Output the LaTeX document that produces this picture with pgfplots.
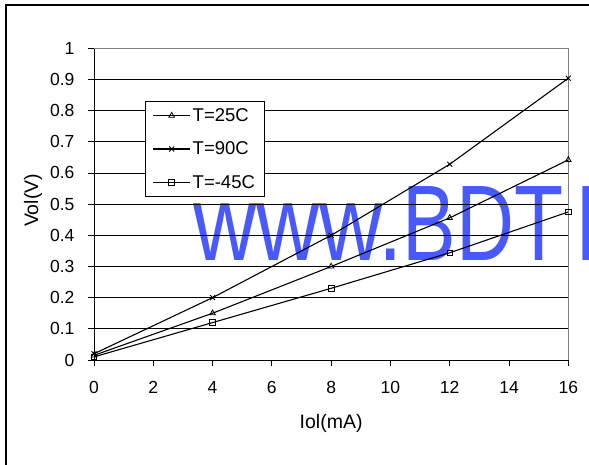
\documentclass[border=0pt]{standalone}
\usepackage{fontspec}
\setmainfont{Liberation Sans}
\usepackage{graphicx}
\usepackage{pgfplots}
\pgfplotsset{compat=1.18}
\definecolor{wm}{RGB}{72,90,255}
\begin{document}
\begin{tikzpicture}
\begin{axis}[
 set layers,
 scale only axis, width=474.3pt, height=311.7pt,
 at={(0pt,0pt)}, anchor=south west,
 xmin=0, xmax=16, ymin=0, ymax=1,
 xtick={0,2,4,6,8,10,12,14,16},
 ytick={0,0.1,0.2,0.3,0.4,0.5,0.6,0.7,0.8,0.9,1},
 axis lines*=left,
 axis line style={black, line width=0.9pt},
 tick align=outside, major tick length=6pt, tick style={black, line width=0.9pt},
 ymajorgrids, major grid style={black, line width=0.8pt},
 /pgf/number format/assume math mode=true,
 ticklabel style={font=\fontsize{17.5}{20}\selectfont},
 xticklabel style={yshift=-12pt},
 yticklabel style={xshift=-10pt},
 xlabel={Iol(mA)}, ylabel={Vol(V)},
 every axis x label/.style={at={(axis description cs:0.5,-0.2021)}, anchor=center, font=\fontsize{19.5}{22}\selectfont},
 every axis y label/.style={at={(axis description cs:-0.1286,0.512)}, anchor=center, rotate=90, font=\fontsize{19.5}{22}\selectfont},
 legend style={at={(axis description cs:0.108,0.831)}, anchor=north west, draw=black, line width=0.8pt, fill=white, font=\fontsize{18.5}{20}\selectfont, inner xsep=7pt, inner ysep=5pt, row sep=15pt, cells={anchor=west}},
 legend image code/.code={\draw[mark repeat=2,mark phase=2,#1] plot coordinates {(0pt,0pt) (18.5pt,0pt) (37pt,0pt)};},
 clip=false,
]
\begin{pgfonlayer}{axis background}
\node[anchor=base west, inner sep=0pt, text=wm, font=\fontsize{107.5}{110}\selectfont] at (axis cs:3.34,0.318) {\scalebox{0.815}[1]{www.}\scalebox{0.747}[1]{BDT\hspace{17pt}I}};
\end{pgfonlayer}
\addplot[black, line width=1.1pt, mark=triangle, mark size=3.2pt, mark options={solid, line width=0.8pt, fill=white}] coordinates {(0,0.015) (4,0.15) (8,0.30) (12,0.456) (16,0.642)};
\addlegendentry{T=25C}
\addplot[black, line width=1.1pt, mark=x, mark size=3.5pt, mark options={solid, line width=0.9pt}] coordinates {(0,0.02) (4,0.20) (8,0.40) (12,0.628) (16,0.904)};
\addlegendentry{T=90C}
\addplot[black, line width=1.1pt, mark=square, mark size=2.8pt, mark options={solid, line width=0.8pt, fill=white}] coordinates {(0,0.01) (4,0.12) (8,0.23) (12,0.344) (16,0.475)};
\addlegendentry{T=-45C}
\draw[gray, line width=0.9pt] (rel axis cs:0,1) -- (rel axis cs:1,1) -- (rel axis cs:1,0);
\end{axis}
\draw[black, line width=2pt] (-88.3pt,-300pt) |- (700pt,355pt);
\pgfresetboundingbox
\path[use as bounding box] (-94pt,-105pt) rectangle (495pt,360pt);
\end{tikzpicture}
\end{document}
